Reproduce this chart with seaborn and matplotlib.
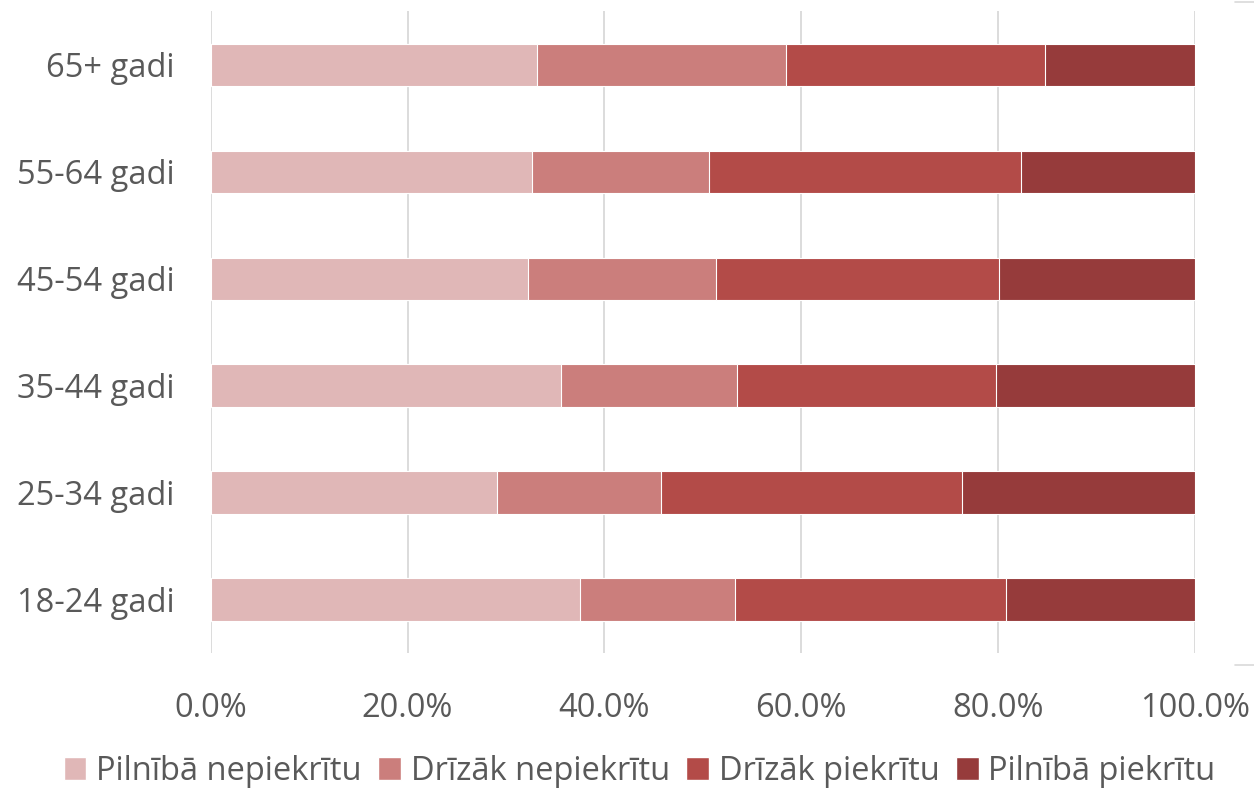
import matplotlib
matplotlib.use('Agg')
import matplotlib.pyplot as plt
import numpy as np
import pandas as pd
import seaborn as sns
from matplotlib.ticker import PercentFormatter
from matplotlib.patches import Patch

# data (percent shares)
groups = ['65+ gadi', '55-64 gadi', '45-54 gadi', '35-44 gadi', '25-34 gadi', '18-24 gadi']
series = ['Pilnībā nepiekrītu', 'Drīzāk nepiekrītu', 'Drīzāk piekrītu', 'Pilnībā piekrītu']
pilniba_nepiekritu = [33.1, 32.6, 32.2, 35.6, 29.1, 37.5]
drizak_nepiekritu = [25.3, 18.0, 19.1, 17.9, 16.6, 15.8]
drizak_piekritu = [26.4, 31.7, 28.8, 26.3, 30.6, 27.5]
pilniba_piekritu = [15.2, 17.7, 19.9, 20.2, 23.7, 19.2]

colors = ['#E0B7B7', '#CB7E7C', '#B34B48', '#963B3B']

df = pd.DataFrame({'grupa': groups,
                   series[0]: pilniba_nepiekritu,
                   series[1]: drizak_nepiekritu,
                   series[2]: drizak_piekritu,
                   series[3]: pilniba_piekritu})
cum = df[series].cumsum(axis=1)
cum['grupa'] = df['grupa']

sns.set_style('white')
plt.rcParams['font.family'] = ['Open Sans', 'DejaVu Sans']

fig = plt.figure(figsize=(12.54, 7.9), dpi=100)
ax = fig.add_axes([0.168, 0.173, 0.785, 0.8125])

# draw the cumulative totals from the longest down so the segments stack
for name, col in reversed(list(zip(series, colors))):
    sns.barplot(data=cum, x=name, y='grupa', order=groups, color=col,
                saturation=1, width=0.4, edgecolor='white', linewidth=0.8,
                ax=ax, zorder=3)

ax.set_xlim(0, 100)
ax.set_ylim(5.5, -0.5)
ax.set_xticks(np.arange(0, 101, 20))
ax.xaxis.set_major_formatter(PercentFormatter(decimals=1))
ax.grid(axis='x', color='#D9D9D9', linewidth=1.3, zorder=0)
ax.set_axisbelow(True)
ax.set_xlabel('')
ax.set_ylabel('')
for s in ax.spines.values():
    s.set_visible(False)
ax.tick_params(axis='x', length=0, pad=28, labelsize=23.5, labelcolor='#595959')
ax.tick_params(axis='y', length=0, pad=26, labelsize=23.5, labelcolor='#595959')

handles = [Patch(facecolor=c, label=s) for s, c in zip(series, colors)]
fig.legend(handles=handles, loc='center', bbox_to_anchor=(0.51, 0.024), ncol=4,
           frameon=False, fontsize=23.5, labelcolor='#595959', handlelength=0.7,
           handleheight=0.7, handletextpad=0.3, columnspacing=0.5)

# stray bits of a neighbouring chart at the right edge
fig.add_artist(plt.Line2D([0.985, 1.0], [0.998, 0.998], color='#D9D9D9', lw=1.2))
fig.add_artist(plt.Line2D([0.985, 1.0], [0.158, 0.158], color='#D9D9D9', lw=1.2))

fig.savefig('out.png', dpi=100)
